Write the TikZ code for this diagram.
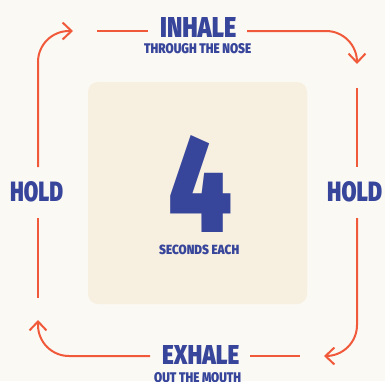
\documentclass[tikz,border=0pt]{standalone}
\usepackage{fontspec}
\setmainfont{Fira Sans}[BoldFont={* Black}]
\usetikzlibrary{arrows.meta}
\definecolor{bg}{HTML}{FBF9F4}
\definecolor{panelc}{HTML}{F7EFDF}
\definecolor{ink}{HTML}{37459B}
\definecolor{flow}{HTML}{F05A3A}
\begin{document}
\begin{tikzpicture}[x=1pt,y=-1pt,
  lbl/.style={inner sep=0pt, anchor=base west, text=ink, font=\bfseries},
  flowline/.style={draw=flow, line width=2pt},
  flowarrow/.style={flowline, -{Straight Barb[length=9pt,width=17pt]}, rounded corners=31pt}]
\path[use as bounding box] (0,0) rectangle (385,381);
\clip (0,0) rectangle (385,381);
\fill[bg] (0,0) rectangle (385,381);
\node (panel) [fill=panelc, rounded corners=10pt, minimum width=219pt, minimum height=222pt, inner sep=0pt] at (197.5,193) {};
\node[lbl] (inhale) at (160,37) {\resizebox{76pt}{20pt}{INHALE}};
\node[lbl] (nose) at (144,53) {\resizebox{107pt}{10pt}{THROUGH THE NOSE}};
\node[lbl] (four) at (168,232) {\resizebox{64pt}{97pt}{4}};
\node[lbl] (secs) at (159,254) {\resizebox{80pt}{9.5pt}{SECONDS EACH}};
\node[lbl] (holdl) at (10,201) {\resizebox{53pt}{20pt}{HOLD}};
\node[lbl] (holdr) at (327,201) {\resizebox{55pt}{20pt}{HOLD}};
\node[lbl] (exhale) at (162,364) {\resizebox{77pt}{19pt}{EXHALE}};
\node[lbl] (mouth) at (154,382) {\resizebox{87pt}{10pt}{OUT THE MOUTH}};
% connector end points
\coordinate (lA) at (38,167);
\coordinate (tA) at (73,31);
\coordinate (tB) at (97,31);
\coordinate (tC) at (148,31);
\coordinate (tD) at (247,31);
\coordinate (rA) at (357,64);
\coordinate (rB) at (357,88);
\coordinate (rC) at (357,167);
\coordinate (rD) at (357,218);
\coordinate (bA) at (324,356);
\coordinate (bB) at (300,356);
\coordinate (bC) at (250,356);
\coordinate (bD) at (150,356);
\coordinate (lB) at (38,320);
\coordinate (lC) at (38,298);
\coordinate (lD) at (38,218);
\draw[flowarrow] (lA) |- (tA);
\draw[flowline] (tB) -- (tC);
\draw[flowarrow] (tD) -| (rA);
\draw[flowline] (rB) -- (rC);
\draw[flowarrow] (rD) |- (bA);
\draw[flowline] (bB) -- (bC);
\draw[flowarrow] (bD) -| (lB);
\draw[flowline] (lC) -- (lD);
\end{tikzpicture}
\end{document}
